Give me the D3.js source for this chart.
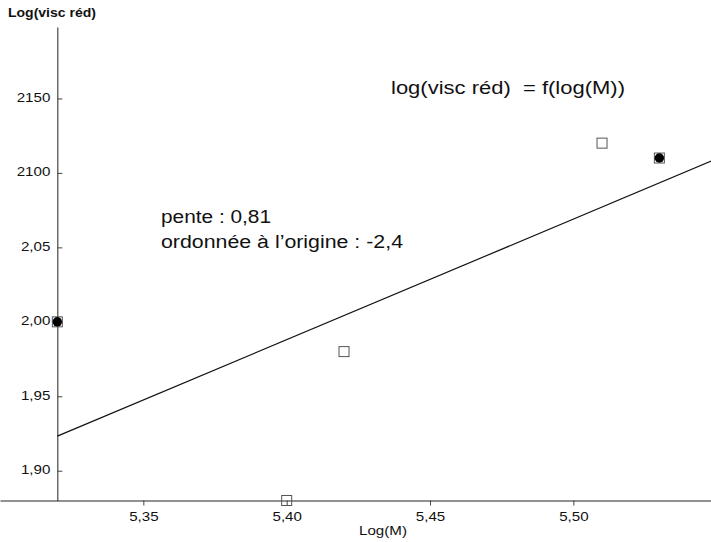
<!DOCTYPE html>
<html><head><meta charset="utf-8">
<script src="https://cdn.jsdelivr.net/npm/d3@7"></script>
<style>body{margin:0;background:#fff}svg{display:block;font-family:"Liberation Sans",Arial,sans-serif}</style>
</head><body><svg id="c" width="711" height="542"></svg>
<script>
const xs = [5.32, 5.40, 5.42, 5.51, 5.53];
const ys = [2.00, 1.88, 1.98, 2.12, 2.11];
const filled = [true, false, false, false, true];
const xTicks = [5.35, 5.40, 5.45, 5.50];
const xTickLabels = ["5,35", "5,40", "5,45", "5,50"];
const yTicks = [1.90, 1.95, 2.00, 2.05, 2.10, 2.15];
const yTickLabels = ["1,90", "1,95", "2,00", "2,05", "2100", "2150"];
const slope = 0.81, intercept = -2.386;
const fitRange = [5.32, 5.55];

const svg = d3.select("#c");
const x = d3.scaleLinear().domain([5.30, 5.55]).range([0, 716.7]);
const y = d3.scaleLinear().domain([1.88, 2.198]).range([500.5, 27]);
const x0 = x(5.32);

// x axis
const xAxis = d3.axisBottom(x).tickValues(xTicks).tickFormat((d,i)=>xTickLabels[i]).tickSize(5).tickSizeOuter(0).tickPadding(6);
const gx = svg.append("g").attr("transform",`translate(0,${y(1.88)})`).call(xAxis);
gx.select(".domain").attr("stroke","#222");
gx.selectAll(".tick line").attr("stroke","#444");
gx.selectAll("text").attr("font-size",13.5).attr("fill","#111");

// y axis
const yAxis = d3.axisLeft(y).tickValues(yTicks).tickFormat((d,i)=>yTickLabels[i]).tickSize(-5).tickSizeOuter(0).tickPadding(7);
const gy = svg.append("g").attr("transform",`translate(${x0},0)`).call(yAxis);
gy.select(".domain").attr("stroke","#222");
gy.selectAll(".tick line").attr("stroke","#444");
gy.selectAll("text").attr("font-size",13.5).attr("fill","#111").attr("dy","0.22em");

// regression line
svg.append("line")
  .attr("x1",x(fitRange[0])).attr("y1",y(slope*fitRange[0]+intercept))
  .attr("x2",x(fitRange[1])).attr("y2",y(slope*fitRange[1]+intercept))
  .attr("stroke","#111").attr("stroke-width",1.2);

// markers
const pts = xs.map((v,i)=>({x:v,y:ys[i],f:filled[i]}));
svg.selectAll("rect.m").data(pts).join("rect").attr("class","m")
  .attr("x",d=>x(d.x)-5).attr("y",d=>y(d.y)-5).attr("width",10).attr("height",10)
  .attr("fill","none").attr("stroke","#555").attr("stroke-width",1);
svg.selectAll("path.f").data(pts.filter(d=>d.f)).join("path").attr("class","f")
  .attr("d",d3.symbol().type(d3.symbolCircle).size(70))
  .attr("transform",d=>`translate(${x(d.x)},${y(d.y)})`).attr("fill","#000");

// texts
svg.append("text").attr("x",8).attr("y",17).attr("font-size",12.5).attr("font-weight","bold").attr("fill","#111").attr("class","wide").text("Log(visc réd)");
svg.append("text").attr("x",383).attr("y",535).attr("text-anchor","middle").attr("font-size",13.5).attr("fill","#111").attr("class","wide").text("Log(M)");
svg.append("text").attr("x",391).attr("y",94).attr("font-size",18).attr("fill","#111").attr("xml:space","preserve").attr("textLength",234).attr("lengthAdjust","spacingAndGlyphs").text("log(visc réd)  = f(log(M))");
svg.append("text").attr("x",161).attr("y",223).attr("font-size",18).attr("fill","#111").attr("textLength",110).attr("lengthAdjust","spacingAndGlyphs").text("pente : 0,81");
svg.append("text").attr("x",161).attr("y",248).attr("font-size",18).attr("fill","#111").attr("textLength",242).attr("lengthAdjust","spacingAndGlyphs").text("ordonnée à l’origine : -2,4");

// slightly widen the small labels as in the scanned original
svg.selectAll(".tick text, text.wide").each(function(){
  const w = this.getComputedTextLength();
  d3.select(this).attr("textLength", w*1.12).attr("lengthAdjust","spacingAndGlyphs");
});
</script></body></html>
